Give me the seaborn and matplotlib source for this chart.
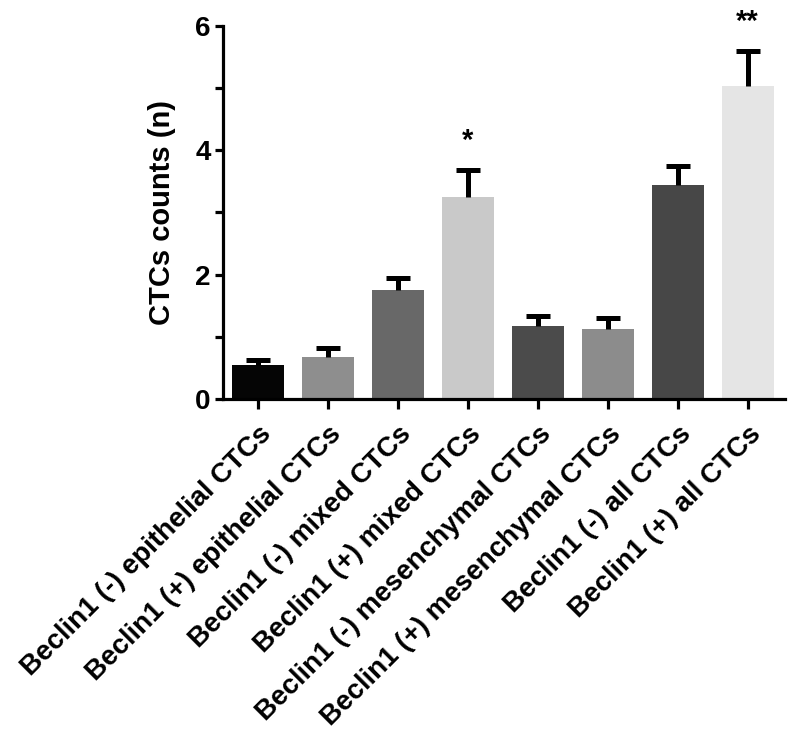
import pandas as pd
import matplotlib
matplotlib.use("Agg")
import matplotlib.pyplot as plt
from matplotlib.ticker import MultipleLocator
import seaborn as sns

# values
groups = [
    "Beclin1 (-) epithelial CTCs",
    "Beclin1 (+) epithelial CTCs",
    "Beclin1 (-) mixed CTCs",
    "Beclin1 (+) mixed CTCs",
    "Beclin1 (-) mesenchymal CTCs",
    "Beclin1 (+) mesenchymal CTCs",
    "Beclin1 (-) all CTCs",
    "Beclin1 (+) all CTCs",
]
means = [0.54, 0.67, 1.76, 3.25, 1.17, 1.13, 3.44, 5.03]
errors = [0.08, 0.15, 0.19, 0.43, 0.17, 0.17, 0.31, 0.56]
stars = ["", "", "", "*", "", "", "", "**"]
bar_colors = ["#050505", "#8e8e8e", "#686868", "#c9c9c9",
              "#4b4b4b", "#8c8c8c", "#474747", "#e5e5e5"]

sns.set_style("ticks")
plt.rcParams["font.family"] = ["Liberation Sans", "DejaVu Sans"]
plt.rcParams["text.color"] = "black"
plt.rcParams["axes.labelcolor"] = "black"
plt.rcParams["xtick.color"] = "black"
plt.rcParams["ytick.color"] = "black"

df = pd.DataFrame({"group": groups, "mean": means, "err": errors})

fig = plt.figure(figsize=(8, 7.33), dpi=100)
ax = fig.add_axes([0.279, 0.4557, 0.702, 0.509])

sns.barplot(data=df, x="group", y="mean", hue="group", palette=bar_colors,
            legend=False, width=0.74, errorbar=None, saturation=1,
            linewidth=0, ax=ax)

# upper-only error bars, no cap at the bar top
eb = ax.errorbar(range(len(groups)), df["mean"],
                 yerr=[[0] * len(groups), df["err"]],
                 fmt="none", ecolor="black", elinewidth=3.6, capsize=8.3,
                 capthick=3.6, zorder=5)
eb[1][0].set_visible(False)

# significance marks
for i, s in enumerate(stars):
    if s:
        ax.text(i, means[i] + errors[i] + 0.47, s, ha="center", va="center",
                fontsize=21, fontweight="bold", clip_on=False)

ax.set_xlim(-0.5, 7.53)
ax.set_ylim(0, 6)
ax.yaxis.set_major_locator(MultipleLocator(2))
ax.yaxis.set_minor_locator(MultipleLocator(1))

sns.despine(ax=ax)
for side in ["left", "bottom"]:
    ax.spines[side].set_linewidth(2.3)
    ax.spines[side].set_color("black")

ax.tick_params(axis="y", which="both", length=6, width=2.3, pad=3,
               labelsize=20)
ax.tick_params(axis="x", length=7, width=2.3, pad=9)

for lab in ax.get_yticklabels():
    lab.set_fontweight("bold")

ax.set_xticks(range(len(groups)))
ax.set_xticklabels(groups, rotation=45, ha="right", rotation_mode="anchor",
                   fontsize=20, fontweight="bold")
ax.set_xlabel("")
ax.set_ylabel("CTCs counts (n)", fontsize=21, fontweight="bold", labelpad=14)

fig.savefig("out.png", dpi=100)
